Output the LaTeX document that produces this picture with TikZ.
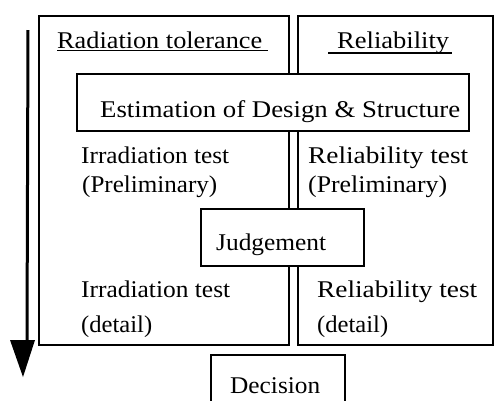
\documentclass[tikz,border=0pt]{standalone}
\usepackage{graphicx}
\usepackage{fontspec}
\setmainfont{Liberation Serif}
\newcommand{\wtext}[2]{\resizebox{#1pt}{\height}{#2}}
\begin{document}
\begin{tikzpicture}[x=1pt,y=-1pt,
  frame/.style={draw,line width=1.9pt,inner sep=0pt,anchor=north west},
  txt/.style={anchor=base west,inner sep=0pt,font=\fontsize{24}{28}\selectfont},
  uline/.style={line width=1.3pt}]
\useasboundingbox (0,0) rectangle (495,400);
\clip (0,0) rectangle (495,400);
% big frames
\node[frame,minimum width=250pt,minimum height=329pt] (leftbox) at (38,15) {};
\node[frame,minimum width=195pt,minimum height=329pt] (rightbox) at (297,15) {};
\draw[line width=2.6pt] (493,130) -- (493,345);
% boxes
\node[frame,fill=white,minimum width=392pt,minimum height=57pt] (estbox) at (76,73) {};
\node[frame,fill=white,minimum width=163pt,minimum height=57pt] (judgebox) at (200,208) {};
\node[frame,fill=white,minimum width=134pt,minimum height=60pt] (decbox) at (210,354) {};
% texts
\node[txt] (rad) at (57,48) {\wtext{205}{Radiation tolerance}};
\draw[uline] (57,50.5) -- (268,50.5);
\node[txt] (rel) at (337,48) {\wtext{112}{Reliability}};
\draw[uline] (328,53) -- (452,53);
\node[txt] (est) at (100,117) {\wtext{360}{Estimation of Design \& Structure}};
\node[txt] (irrA) at (81,163) {\wtext{148}{Irradiation test}};
\node[txt] (irrAp) at (82,192) {\wtext{135}{(Preliminary)}};
\node[txt] (relA) at (308,163) {\wtext{160}{Reliability test}};
\node[txt] (relAp) at (308,192) {\wtext{139}{(Preliminary)}};
\node[txt] (judge) at (216,250) {\wtext{110}{Judgement}};
\node[txt] (irrB) at (81,297) {\wtext{149}{Irradiation test}};
\node[txt] (irrBd) at (81,332) {\wtext{71}{(detail)}};
\node[txt] (relB) at (317,297) {\wtext{160}{Reliability test}};
\node[txt] (relBd) at (317,332) {\wtext{71}{(detail)}};
\node[txt] (dec) at (230,393) {\wtext{90}{Decision}};
% time arrow
\coordinate (atop) at (28,30);
\coordinate (abase) at (27,340);
\draw[line width=3pt] (atop) -- (abase);
\fill (10,340) -- (35,340) -- (23,377) -- cycle;
\end{tikzpicture}
\end{document}
